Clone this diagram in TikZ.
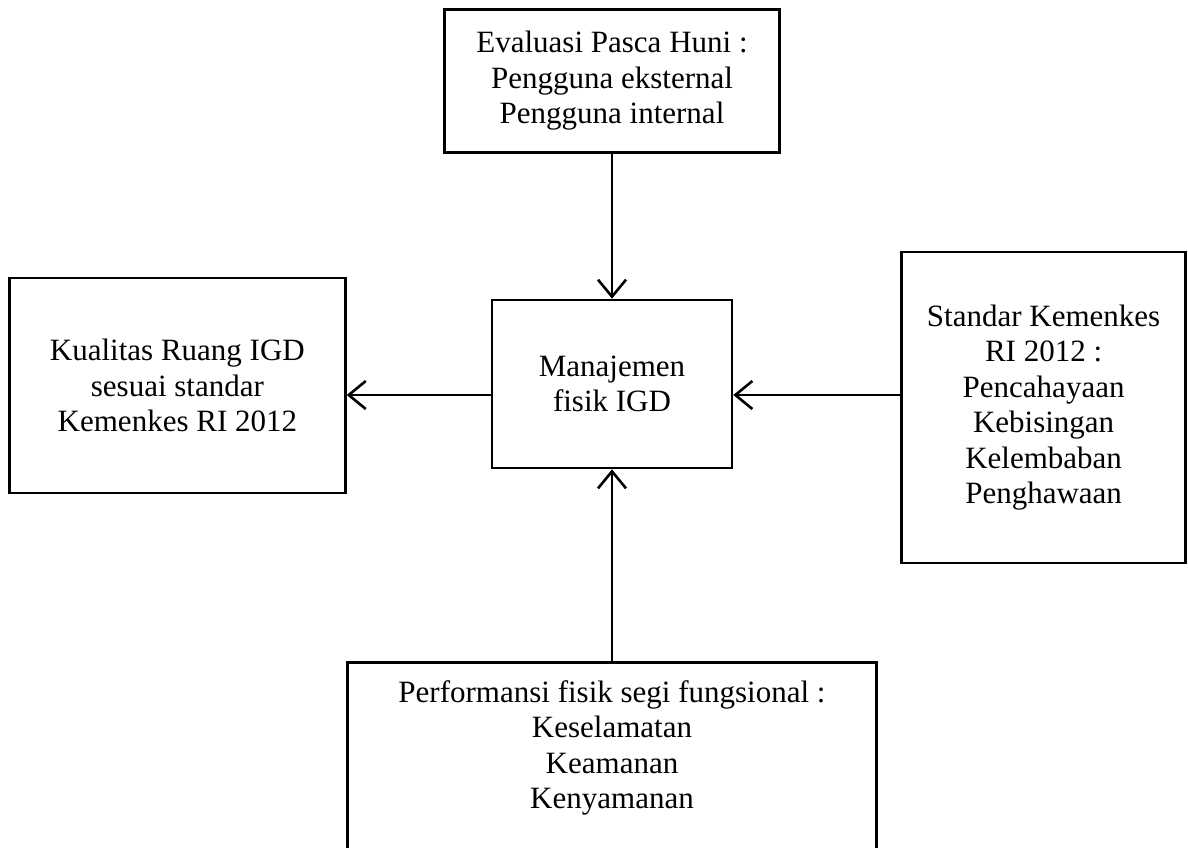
\documentclass[tikz,border=0pt]{standalone}
\usepackage{fontspec}
\setmainfont{Liberation Serif}
\usetikzlibrary{arrows.meta,positioning}
\tikzset{
  box/.style={draw,line width=2.6pt,align=center,inner sep=0pt,fill=white,
    font=\fontsize{31}{35.5}\selectfont},
  arr/.style={-{Straight Barb[length=17pt,width=28pt]},line width=2.6pt}
}
\begin{document}
\begin{tikzpicture}[x=1pt,y=-1pt]
 \path[use as bounding box,clip] (0,0) rectangle (1188,847);
 \node[box,minimum width=240pt,minimum height=168pt] (mid) at (612,384) {Manajemen\\fisik IGD};
 \node[box,minimum width=335pt,minimum height=143pt,above=145pt of mid] (eval) {Evaluasi Pasca Huni :\\Pengguna eksternal\\Pengguna internal};
 \node[box,minimum width=336pt,minimum height=215pt,left=144pt of mid,yshift=-1.5pt] (kual) {Kualitas Ruang IGD\\sesuai standar\\Kemenkes RI 2012};
 \node[box,minimum width=284pt,minimum height=311pt,right=167pt of mid,yshift=-23.5pt] (std) {Standar Kemenkes\\RI 2012 :\\Pencahayaan\\Kebisingan\\Kelembaban\\Penghawaan};
 \node[box,minimum width=529pt,inner ysep=18pt,below=192pt of mid] (perf) {Performansi fisik segi fungsional :\\Keselamatan\\Keamanan\\Kenyamanan\rule[-90pt]{0pt}{1pt}};
 \draw[arr] (eval.south -| mid.north) -- (mid.north);
 \draw[arr] ([yshift=-11pt]mid.west) -- ([yshift=-11pt]mid.west -| kual.east);
 \draw[arr] ([yshift=-11pt]mid.east -| std.west) -- ([yshift=-11pt]mid.east);
 \draw[arr] (perf.north -| mid.south) -- (mid.south);
\end{tikzpicture}
\end{document}
